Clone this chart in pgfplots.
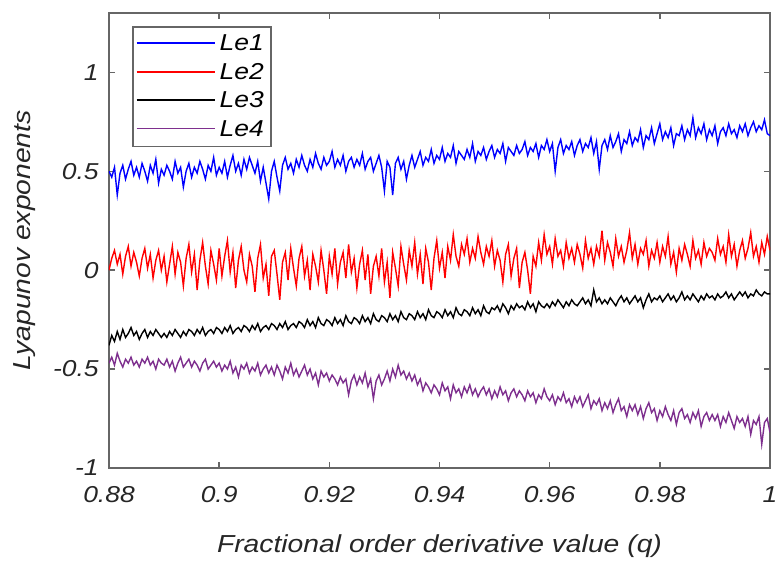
\documentclass[border=0pt]{standalone}
\usepackage{fontspec}
\setmainfont{Liberation Sans}[FakeStretch=1.15]
\usepackage{pgfplots}
\usepackage{pgfplotstable}
\pgfplotsset{compat=1.18}
\definecolor{axgray}{rgb}{0.40,0.40,0.40}
\definecolor{txtgray}{rgb}{0.15,0.15,0.15}
\definecolor{leone}{rgb}{0,0,1}
\definecolor{letwo}{rgb}{1,0,0}
\definecolor{lethree}{rgb}{0,0,0}
\definecolor{lefour}{rgb}{0.494,0.184,0.556}
\pgfplotstableread{
x le1 le2 le3 le4
0.8800 0.50 0.00 -0.38 -0.47
0.8805 0.47 0.06 -0.33 -0.44
0.8810 0.52 0.10 -0.36 -0.48
0.8815 0.38 0.03 -0.31 -0.42
0.8820 0.49 0.08 -0.35 -0.46
0.8825 0.53 -0.02 -0.30 -0.49
0.8830 0.46 0.07 -0.34 -0.45
0.8835 0.51 0.12 -0.32 -0.47
0.8840 0.55 0.02 -0.29 -0.44
0.8845 0.48 0.09 -0.33 -0.48
0.8850 0.52 0.04 -0.31 -0.46
0.8855 0.47 -0.03 -0.35 -0.49
0.8860 0.54 0.06 -0.32 -0.45
0.8865 0.50 0.11 -0.30 -0.47
0.8870 0.45 0.01 -0.34 -0.44
0.8875 0.53 0.08 -0.31 -0.48
0.8880 0.49 -0.04 -0.33 -0.46
0.8885 0.56 0.05 -0.30 -0.50
0.8890 0.44 0.10 -0.32 -0.45
0.8895 0.51 0.00 -0.34 -0.47
0.8900 0.48 0.07 -0.32 -0.48
0.8905 0.53 -0.06 -0.34 -0.45
0.8910 0.50 0.03 -0.31 -0.49
0.8915 0.46 0.12 -0.33 -0.46
0.8920 0.55 -0.02 -0.30 -0.51
0.8925 0.49 0.09 -0.32 -0.47
0.8930 0.52 0.04 -0.34 -0.44
0.8935 0.42 -0.08 -0.31 -0.49
0.8940 0.50 0.06 -0.33 -0.47
0.8945 0.54 0.13 -0.30 -0.45
0.8950 0.47 -0.01 -0.31 -0.49
0.8955 0.52 0.08 -0.33 -0.46
0.8960 0.49 -0.10 -0.30 -0.48
0.8965 0.55 0.05 -0.32 -0.51
0.8970 0.51 0.14 -0.29 -0.47
0.8975 0.46 0.02 -0.33 -0.45
0.8980 0.53 -0.07 -0.31 -0.50
0.8985 0.50 0.10 -0.30 -0.48
0.8990 0.57 0.03 -0.32 -0.46
0.8995 0.48 -0.05 -0.29 -0.49
0.9000 0.52 0.11 -0.30 -0.47
0.9005 0.49 -0.03 -0.32 -0.51
0.9010 0.55 0.07 -0.29 -0.48
0.9015 0.47 0.15 -0.31 -0.50
0.9020 0.53 -0.01 -0.28 -0.46
0.9025 0.58 0.09 -0.32 -0.52
0.9030 0.50 -0.09 -0.30 -0.49
0.9035 0.54 0.05 -0.29 -0.54
0.9040 0.48 0.12 -0.31 -0.48
0.9045 0.56 0.00 -0.28 -0.50
0.9050 0.51 -0.06 -0.29 -0.47
0.9055 0.57 0.08 -0.31 -0.52
0.9060 0.53 0.02 -0.28 -0.49
0.9065 0.49 -0.11 -0.30 -0.51
0.9070 0.55 0.06 -0.27 -0.47
0.9075 0.45 0.13 -0.31 -0.53
0.9080 0.52 -0.04 -0.29 -0.50
0.9085 0.44 0.03 -0.28 -0.48
0.9090 0.36 -0.13 -0.30 -0.52
0.9095 0.50 0.07 -0.27 -0.49
0.9100 0.55 0.10 -0.28 -0.53
0.9105 0.47 -0.02 -0.30 -0.48
0.9110 0.40 -0.15 -0.27 -0.51
0.9115 0.53 0.04 -0.29 -0.55
0.9120 0.57 0.09 -0.26 -0.49
0.9125 0.51 -0.05 -0.30 -0.52
0.9130 0.54 0.11 -0.28 -0.47
0.9135 0.49 0.01 -0.27 -0.53
0.9140 0.56 -0.08 -0.29 -0.50
0.9145 0.52 0.06 -0.26 -0.54
0.9150 0.58 0.12 -0.27 -0.51
0.9155 0.53 -0.03 -0.29 -0.48
0.9160 0.50 0.05 -0.25 -0.53
0.9165 0.56 -0.10 -0.28 -0.50
0.9170 0.52 0.08 -0.26 -0.55
0.9175 0.59 0.02 -0.29 -0.52
0.9180 0.54 -0.06 -0.24 -0.58
0.9185 0.51 0.10 -0.27 -0.51
0.9190 0.57 0.00 -0.28 -0.54
0.9195 0.53 -0.12 -0.25 -0.52
0.9200 0.55 0.07 -0.26 -0.56
0.9205 0.60 -0.02 -0.28 -0.53
0.9210 0.52 0.11 -0.24 -0.55
0.9215 0.56 -0.07 -0.27 -0.58
0.9220 0.53 0.04 -0.25 -0.54
0.9225 0.58 0.09 -0.28 -0.57
0.9230 0.50 -0.04 -0.23 -0.55
0.9235 0.55 0.13 -0.26 -0.63
0.9240 0.57 -0.01 -0.27 -0.56
0.9245 0.52 0.06 -0.24 -0.53
0.9250 0.56 -0.09 -0.25 -0.58
0.9255 0.53 0.03 -0.27 -0.54
0.9260 0.59 0.10 -0.23 -0.57
0.9265 0.51 -0.05 -0.26 -0.52
0.9270 0.55 0.08 -0.24 -0.59
0.9275 0.57 -0.12 -0.27 -0.55
0.9280 0.50 0.02 -0.22 -0.65
0.9285 0.54 0.07 -0.25 -0.56
0.9290 0.58 -0.03 -0.26 -0.53
0.9295 0.52 0.11 -0.23 -0.58
0.9300 0.40 -0.06 -0.24 -0.55
0.9305 0.55 0.04 -0.26 -0.51
0.9310 0.52 -0.14 -0.22 -0.56
0.9315 0.38 0.09 -0.25 -0.50
0.9320 0.54 0.01 -0.23 -0.54
0.9325 0.57 -0.08 -0.26 -0.48
0.9330 0.51 0.12 -0.21 -0.53
0.9335 0.55 0.03 -0.24 -0.51
0.9340 0.46 -0.05 -0.25 -0.55
0.9345 0.53 0.10 -0.22 -0.52
0.9350 0.58 0.02 -0.23 -0.56
0.9355 0.52 0.14 -0.25 -0.53
0.9360 0.56 -0.02 -0.21 -0.58
0.9365 0.60 0.08 -0.24 -0.55
0.9370 0.53 -0.07 -0.22 -0.61
0.9375 0.57 0.11 -0.25 -0.57
0.9380 0.55 0.04 -0.20 -0.59
0.9385 0.61 -0.10 -0.23 -0.62
0.9390 0.54 0.06 -0.24 -0.58
0.9395 0.58 0.15 -0.21 -0.60
0.9400 0.56 0.01 -0.22 -0.63
0.9405 0.62 0.09 -0.24 -0.57
0.9410 0.55 -0.04 -0.20 -0.61
0.9415 0.59 0.12 -0.23 -0.59
0.9420 0.57 0.05 -0.21 -0.65
0.9425 0.63 0.18 -0.24 -0.58
0.9430 0.54 0.07 -0.19 -0.62
0.9435 0.60 0.02 -0.22 -0.60
0.9440 0.58 0.13 -0.23 -0.64
0.9445 0.56 0.08 -0.20 -0.59
0.9450 0.61 0.16 -0.21 -0.62
0.9455 0.57 0.04 -0.23 -0.58
0.9460 0.64 0.11 -0.19 -0.63
0.9465 0.55 0.06 -0.22 -0.60
0.9470 0.60 0.17 -0.20 -0.64
0.9475 0.58 0.09 -0.23 -0.61
0.9480 0.62 0.03 -0.18 -0.59
0.9485 0.56 0.12 -0.21 -0.63
0.9490 0.60 0.07 -0.22 -0.60
0.9495 0.63 0.15 -0.19 -0.65
0.9500 0.57 0.02 -0.20 -0.61
0.9505 0.61 0.10 -0.18 -0.64
0.9510 0.59 0.05 -0.21 -0.59
0.9515 0.64 -0.06 -0.17 -0.63
0.9520 0.55 0.08 -0.19 -0.61
0.9525 0.62 0.13 -0.22 -0.66
0.9530 0.60 -0.03 -0.18 -0.62
0.9535 0.58 0.06 -0.20 -0.60
0.9540 0.63 0.11 -0.17 -0.64
0.9545 0.59 -0.09 -0.19 -0.61
0.9550 0.61 0.04 -0.18 -0.63
0.9555 0.65 0.09 -0.20 -0.66
0.9560 0.58 0.00 -0.16 -0.61
0.9565 0.62 -0.12 -0.19 -0.64
0.9570 0.60 0.07 -0.17 -0.62
0.9575 0.64 0.02 -0.21 -0.67
0.9580 0.57 0.14 -0.16 -0.63
0.9585 0.63 0.05 -0.18 -0.65
0.9590 0.61 0.18 -0.19 -0.60
0.9595 0.66 0.08 -0.17 -0.64
0.9600 0.60 0.12 -0.19 -0.66
0.9605 0.64 0.03 -0.16 -0.63
0.9610 0.50 0.16 -0.18 -0.68
0.9615 0.62 0.07 -0.15 -0.64
0.9620 0.66 0.10 -0.17 -0.66
0.9625 0.59 0.02 -0.19 -0.62
0.9630 0.63 0.14 -0.16 -0.67
0.9635 0.61 0.06 -0.18 -0.65
0.9640 0.65 0.11 -0.15 -0.69
0.9645 0.58 0.04 -0.17 -0.64
0.9650 0.63 0.13 -0.18 -0.67
0.9655 0.66 0.08 -0.16 -0.64
0.9660 0.60 0.01 -0.14 -0.69
0.9665 0.64 0.15 -0.17 -0.66
0.9670 0.62 0.06 -0.15 -0.63
0.9675 0.67 0.11 -0.18 -0.70
0.9680 0.59 0.03 -0.10 -0.66
0.9685 0.65 0.12 -0.16 -0.68
0.9690 0.51 0.07 -0.14 -0.65
0.9695 0.63 0.20 -0.17 -0.71
0.9700 0.66 0.05 -0.15 -0.67
0.9705 0.61 0.14 -0.17 -0.70
0.9710 0.68 0.09 -0.14 -0.66
0.9715 0.62 0.02 -0.16 -0.72
0.9720 0.65 0.16 -0.18 -0.68
0.9725 0.69 0.07 -0.15 -0.65
0.9730 0.60 0.12 -0.13 -0.71
0.9735 0.66 0.04 -0.16 -0.69
0.9740 0.64 0.10 -0.14 -0.74
0.9745 0.70 0.19 -0.17 -0.68
0.9750 0.63 0.06 -0.15 -0.71
0.9755 0.67 0.13 -0.13 -0.68
0.9760 0.65 0.03 -0.16 -0.73
0.9765 0.71 0.11 -0.14 -0.69
0.9770 0.62 0.08 -0.19 -0.75
0.9775 0.68 0.15 -0.15 -0.70
0.9780 0.66 0.02 -0.12 -0.67
0.9785 0.72 0.10 -0.16 -0.72
0.9790 0.64 0.06 -0.14 -0.70
0.9795 0.69 0.14 -0.15 -0.76
0.9800 0.74 0.04 -0.13 -0.71
0.9805 0.66 0.12 -0.16 -0.74
0.9810 0.70 0.07 -0.14 -0.69
0.9815 0.67 0.17 -0.12 -0.73
0.9820 0.72 0.03 -0.15 -0.76
0.9825 0.63 0.09 -0.13 -0.71
0.9830 0.69 -0.01 -0.16 -0.78
0.9835 0.68 0.11 -0.14 -0.72
0.9840 0.73 0.05 -0.11 -0.70
0.9845 0.66 0.13 -0.15 -0.75
0.9850 0.71 0.08 -0.13 -0.73
0.9855 0.68 0.02 -0.15 -0.77
0.9860 0.77 0.15 -0.12 -0.72
0.9865 0.67 0.06 -0.14 -0.75
0.9870 0.72 0.10 -0.16 -0.71
0.9875 0.69 0.03 -0.13 -0.79
0.9880 0.74 0.14 -0.15 -0.74
0.9885 0.66 0.07 -0.12 -0.72
0.9890 0.71 0.11 -0.14 -0.76
0.9895 0.68 0.09 -0.13 -0.73
0.9900 0.73 0.05 -0.15 -0.76
0.9905 0.64 0.16 -0.12 -0.73
0.9910 0.70 0.08 -0.14 -0.79
0.9915 0.72 0.12 -0.13 -0.74
0.9920 0.68 0.04 -0.11 -0.77
0.9925 0.74 0.18 -0.14 -0.72
0.9930 0.69 0.07 -0.12 -0.76
0.9935 0.71 0.13 -0.15 -0.80
0.9940 0.67 0.02 -0.13 -0.74
0.9945 0.73 0.10 -0.11 -0.77
0.9950 0.70 0.15 -0.13 -0.75
0.9955 0.74 0.06 -0.11 -0.79
0.9960 0.68 0.11 -0.14 -0.74
0.9965 0.72 0.19 -0.12 -0.83
0.9970 0.75 0.07 -0.13 -0.76
0.9975 0.70 0.12 -0.10 -0.78
0.9980 0.73 0.04 -0.12 -0.74
0.9985 0.71 0.14 -0.13 -0.88
0.9990 0.76 0.08 -0.11 -0.77
0.9995 0.69 0.17 -0.12 -0.75
1.0000 0.68 0.10 -0.12 -0.82
}\lyap

\begin{document}
\begin{tikzpicture}
\begin{axis}[
  scale only axis,
  width=330.5pt, height=227.5pt,
  xmin=0.88, xmax=1, ymin=-1, ymax=1.3,
  xtick={0.88,0.90,0.92,0.94,0.96,0.98,1.00},
  xticklabels={0.88,0.9,0.92,0.94,0.96,0.98,1},
  ytick={-1,-0.5,0,0.5,1},
  yticklabels={-1,-0.5,0,0.5,1},
  tick align=inside,
  tick pos=both,
  major tick length=3pt,
  axis line style={axgray, line width=0.9pt},
  every tick/.style={axgray, line width=0.7pt},
  /pgf/number format/assume math mode=true,
  tick label style={font=\fontsize{11.5}{13}\selectfont\itshape, text=txtgray},
  xticklabel style={anchor=base, inner sep=0pt, yshift=-17.5pt},
  yticklabel style={anchor=east, inner sep=0pt, xshift=-5pt},
  xlabel={Fractional order derivative value (q)},
  ylabel={Lyapunov exponents},
  label style={font=\fontsize{12.3}{14}\selectfont\itshape, text=txtgray},
  xlabel style={at={(axis description cs:0.5,-0.1868)}, anchor=base},
  ylabel style={at={(axis description cs:-0.1271,0.5)}, anchor=center},
  legend cell align=left,
  legend style={at={(axis description cs:0,1)}, anchor=north west,
    xshift=11.5pt, yshift=-6.5pt, draw=axgray, line width=0.8pt, fill=white,
    font=\fontsize{11.5}{13}\selectfont\itshape,
    inner xsep=1.5pt, inner ysep=1.5pt, row sep=0pt,
    nodes={inner xsep=2pt, inner ysep=2.1pt, text height=8.5pt, text depth=1.5pt, text=black}},
  legend image code/.code={\draw[#1, line width=0.9pt] (0pt,0.3pt) -- (39pt,0.3pt);},
]
\addplot[leone, line width=0.7pt] table[x=x, y=le1] {\lyap};
\addlegendentry{Le1}
\addplot[letwo, line width=0.7pt] table[x=x, y=le2] {\lyap};
\addlegendentry{Le2}
\addplot[lethree, line width=0.7pt] table[x=x, y=le3] {\lyap};
\addlegendentry{Le3}
\addplot[lefour, line width=0.7pt] table[x=x, y=le4] {\lyap};
\addlegendentry{Le4}
\end{axis}
\pgfresetboundingbox
\path ([xshift=-54.5pt,yshift=-48.5pt]current axis.south west) rectangle ([xshift=3pt,yshift=6.5pt]current axis.north east);
\end{tikzpicture}
\end{document}
